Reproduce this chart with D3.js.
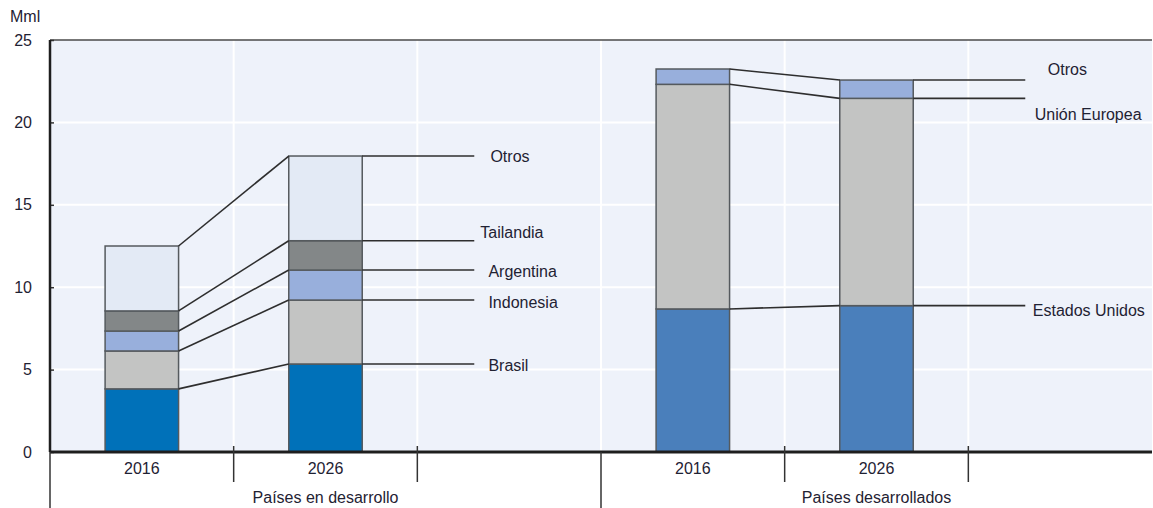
<!DOCTYPE html>
<html>
<head>
<meta charset="utf-8">
<script src="https://cdn.jsdelivr.net/npm/d3@7"></script>
<style>
  html, body { margin: 0; padding: 0; background: #fff; }
  svg text { font-family: "Liberation Sans Narrow", "Arial Narrow", "Liberation Sans", Arial, sans-serif; fill: #1f2233; }
</style>
</head>
<body>
<svg id="chart" width="1153" height="508"></svg>
<script>
// Slots along the x axis: two bars and one label column per group
const slots = ["dev2016", "dev2026", "devLabels", "adv2016", "adv2026", "advLabels"];
const years = ["2016", "2026"];
const groups = ["Países en desarrollo", "Países desarrollados"];
const yTicks = [0, 5, 10, 15, 20, 25];

// Developing countries (stack order bottom to top)
const devSeries = ["Brasil", "Indonesia", "Argentina", "Tailandia", "Otros"];
const dev2016 = [3.83, 2.30, 1.21, 1.22, 3.94];
const dev2026 = [5.34, 3.88, 1.82, 1.78, 5.14];
const devColors = ["#0071b9", "#c3c4c3", "#98afdc", "#838788", "#e3eaf5"];

// Developed countries (stack order bottom to top)
const advSeries = ["Estados Unidos", "Unión Europea", "Otros"];
const adv2016 = [8.68, 13.63, 0.93];
const adv2026 = [8.88, 12.58, 1.11];
const advColors = ["#4a7fbb", "#c3c4c3", "#98afdc"];

const svg = d3.select("#chart");
const margin = { left: 50, right: 1, top: 40, bottom: 56 };
const W = 1153, H = 508;
const x0 = margin.left, x1 = W - margin.right;
const yTop = margin.top, yBase = H - margin.bottom;

const x = d3.scaleBand().domain(slots).range([x0, x1]).paddingInner(0).paddingOuter(0);
const y = d3.scaleLinear().domain([0, 25]).range([yBase, yTop]);
const barW = x.bandwidth() * 0.4;
const barX = s => x(s) + (x.bandwidth() - barW) / 2;

// Plot background
svg.append("rect").attr("x", x0).attr("y", yTop).attr("width", x1 - x0).attr("height", yBase - yTop)
  .attr("fill", "#eef2fa");

// White grid lines
svg.append("g").selectAll("line").data(yTicks.filter(t => t > 0 && t < 25)).join("line")
  .attr("x1", x0).attr("x2", x1).attr("y1", d => y(d)).attr("y2", d => y(d))
  .attr("stroke", "#ffffff").attr("stroke-width", 2);
svg.append("g").selectAll("line").data(slots.slice(1)).join("line")
  .attr("x1", d => x(d)).attr("x2", d => x(d)).attr("y1", yTop).attr("y2", yBase)
  .attr("stroke", "#ffffff").attr("stroke-width", 2);

// Top frame line
svg.append("line").attr("x1", x0).attr("x2", x1).attr("y1", yTop).attr("y2", yTop)
  .attr("stroke", "#4a4a4a").attr("stroke-width", 1.5);

// Stacks
function stackRects(slot, values, colors) {
  let cum = 0;
  const out = [];
  values.forEach((v, i) => { out.push({ slot, y0: cum, y1: cum + v, color: colors[i] }); cum += v; });
  return out;
}
function tops(values) { return d3.cumsum(values); }

const allRects = [
  ...stackRects("dev2016", dev2016, devColors),
  ...stackRects("dev2026", dev2026, devColors),
  ...stackRects("adv2016", adv2016, advColors),
  ...stackRects("adv2026", adv2026, advColors)
];

svg.append("g").selectAll("rect").data(allRects).join("rect")
  .attr("x", d => barX(d.slot)).attr("width", barW)
  .attr("y", d => y(d.y1)).attr("height", d => y(d.y0) - y(d.y1))
  .attr("fill", d => d.color).attr("stroke", "#555a5e").attr("stroke-width", 1.5);

// Connector lines between the two years, then out to the label column
const conn = svg.append("g").attr("stroke", "#2e2e2e").attr("stroke-width", 1.6).attr("fill", "none");
function connectors(sA, sB, valsA, valsB, labelSlot) {
  const tA = tops(valsA), tB = tops(valsB);
  const endX = x(labelSlot) + x.bandwidth() * 0.31;
  tA.forEach((t, i) => {
    conn.append("path").attr("d", d3.line()([
      [barX(sA) + barW, y(t)], [barX(sB), y(tB[i])]
    ]));
    conn.append("path").attr("d", d3.line()([
      [barX(sB) + barW, y(tB[i])], [endX, y(tB[i])]
    ]));
  });
}
connectors("dev2016", "dev2026", dev2016, dev2026, "devLabels");
connectors("adv2016", "adv2026", adv2016, adv2026, "advLabels");

// Series labels next to the line ends (dy nudges keep labels apart)
const devLabelDx = [0.387, 0.387, 0.387, 0.343, 0.398];
const devLabelDy = [1, 2, 1, -8, 0];
const advLabelDx = [0.351, 0.362, 0.433];
const advLabelDy = [5, 16, -11];
function seriesLabels(names, values, slot, dxs, dys) {
  const t = tops(values);
  svg.append("g").selectAll("text").data(names).join("text")
    .attr("x", (d, i) => x(slot) + x.bandwidth() * dxs[i])
    .attr("y", (d, i) => y(t[i]) + dys[i])
    .attr("dy", "0.35em").attr("font-size", 16).text(d => d);
}
seriesLabels(devSeries, dev2026, "devLabels", devLabelDx, devLabelDy);
seriesLabels(advSeries, adv2026, "advLabels", advLabelDx, advLabelDy);

// Y axis
const yAxis = svg.append("g").attr("transform", `translate(${x0},0)`)
  .call(d3.axisLeft(y).tickValues(yTicks).tickSize(-4).tickPadding(18).tickFormat(d3.format("d")));
yAxis.select(".domain").remove();
yAxis.selectAll(".tick line").attr("stroke", "#333").attr("stroke-width", 1.5);
yAxis.selectAll(".tick text").attr("font-size", 16).attr("fill", "#1f2233")
  .style("font-family", "'Liberation Sans Narrow', 'Arial Narrow', 'Liberation Sans', Arial, sans-serif");
svg.append("line").attr("x1", x0).attr("x2", x0).attr("y1", yTop).attr("y2", yBase)
  .attr("stroke", "#1e1e1e").attr("stroke-width", 2.5);
svg.append("text").attr("x", 10).attr("y", 22).attr("font-size", 16).text("Mml");

// Baseline
svg.append("line").attr("x1", x0).attr("x2", x1).attr("y1", yBase).attr("y2", yBase)
  .attr("stroke", "#1e1e1e").attr("stroke-width", 3);

// Category tick marks below the baseline
const shortTicks = [slots[1], slots[2], slots[4], slots[5]];
svg.append("g").selectAll("line").data(shortTicks).join("line")
  .attr("x1", d => x(d)).attr("x2", d => x(d)).attr("y1", yBase - 6).attr("y2", yBase + 30)
  .attr("stroke", "#333").attr("stroke-width", 1.5);
svg.append("g").selectAll("line").data([x0, x(slots[3])]).join("line")
  .attr("x1", d => d).attr("x2", d => d).attr("y1", yBase).attr("y2", H)
  .attr("stroke", "#333").attr("stroke-width", 1.5);

// Year labels
const yearSlots = [["dev2016", years[0]], ["dev2026", years[1]], ["adv2016", years[0]], ["adv2026", years[1]]];
svg.append("g").selectAll("text").data(yearSlots).join("text")
  .attr("x", d => x(d[0]) + x.bandwidth() / 2).attr("y", yBase + 16)
  .attr("dy", "0.35em").attr("text-anchor", "middle").attr("font-size", 16).text(d => d[1]);

// Group labels
svg.append("g").selectAll("text").data(groups).join("text")
  .attr("x", (d, i) => (x(slots[i * 3]) + x(slots[i * 3 + 2]) + x.bandwidth()) / 2)
  .attr("y", yBase + 45).attr("dy", "0.35em").attr("text-anchor", "middle").attr("font-size", 16)
  .text(d => d);
</script>
</body>
</html>
